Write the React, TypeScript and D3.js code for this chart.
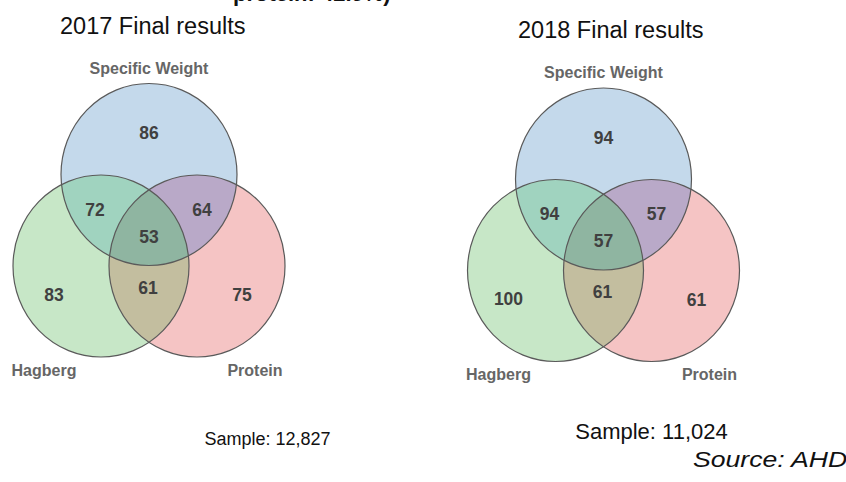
import { useEffect, useRef } from 'react';
import * as d3 from 'd3';

// Set names and region counts (order: SW only, H only, P only, SW∩H, SW∩P, H∩P, all three)
const SETS = ['Specific Weight', 'Hagberg', 'Protein'];
const YEARS = ['2017', '2018'];
const COUNTS_2017 = [86, 83, 75, 72, 64, 61, 53];
const COUNTS_2018 = [94, 100, 61, 94, 57, 61, 57];
const SAMPLES = ['12,827', '11,024'];

const COLORS = {
  sw: '#c4d9eb',
  hag: '#c7e7c7',
  pro: '#f5c4c4',
  swHag: '#a0d3bf',
  swPro: '#b9a9c8',
  hagPro: '#c3be9f',
  all: '#8fb5a1',
  stroke: '#5a5a5a',
  number: '#404040',
  label: '#666666',
  text: '#111111',
};

const W = 846;
const H = 482;

// Geometry of one venn: circle radii and spacing
const RX = 88;
const RY = 91;
const HALF = 48;
const DROP = 91.5;

// label offsets relative to (middle x, top-circle centre y), one per region
const REGION_OFFSETS: [number, number][] = [
  [0, -41.5],
  [-95, 120],
  [93, 120.5],
  [-54, 35],
  [53, 35],
  [-1, 113],
  [0, 62],
];

export default function App() {
  const svgRef = useRef<SVGSVGElement>(null);

  useEffect(() => {
    if (!svgRef.current) return;
    const svg = d3.select(svgRef.current);
    svg.selectAll('*').remove();
    const defs = svg.append('defs');

    // cut-off heading from the slide above
    svg.append('text')
      .attr('x', 233)
      .attr('y', 1)
      .attr('font-size', '22px')
      .attr('font-weight', '700')
      .attr('fill', COLORS.text)
      .text('protein: 42.9%)');

    const panels = [
      { year: YEARS[0], counts: COUNTS_2017, mx: 149, cy: 174.5, tx: 60, ty: 34, sample: SAMPLES[0], sx: 267.5, sy: 445, sf: 18 },
      { year: YEARS[1], counts: COUNTS_2018, mx: 603.5, cy: 179, tx: 518, ty: 38, sample: SAMPLES[1], sx: 651.5, sy: 439, sf: 22 },
    ];

    panels.forEach((p, pi) => {
      const g = svg.append('g');

      g.append('text')
        .attr('x', p.tx)
        .attr('y', p.ty)
        .attr('font-size', '23.5px')
        .attr('fill', COLORS.text)
        .text(`${p.year} Final results`);

      const circles = [
        { key: 'sw', x: p.mx, y: p.cy },
        { key: 'hag', x: p.mx - HALF, y: p.cy + DROP },
        { key: 'pro', x: p.mx + HALF, y: p.cy + DROP },
      ];

      circles.forEach(c => {
        defs.append('clipPath')
          .attr('id', `clip-${pi}-${c.key}`)
          .append('ellipse')
          .attr('cx', c.x).attr('cy', c.y).attr('rx', RX).attr('ry', RY);
      });

      const ellipse = (sel: any, c: any) => sel.append('ellipse')
        .attr('cx', c.x).attr('cy', c.y).attr('rx', RX).attr('ry', RY);

      // single sets
      circles.forEach(c => {
        ellipse(g, c).attr('fill', (COLORS as any)[c.key]);
      });

      // pairs
      const pairs: [number, number, string][] = [
        [0, 1, COLORS.swHag],
        [0, 2, COLORS.swPro],
        [1, 2, COLORS.hagPro],
      ];
      pairs.forEach(([a, b, col]) => {
        ellipse(g, circles[a])
          .attr('clip-path', `url(#clip-${pi}-${circles[b].key})`)
          .attr('fill', col);
      });

      // triple
      const tg = g.append('g').attr('clip-path', `url(#clip-${pi}-${circles[2].key})`);
      ellipse(tg, circles[0])
        .attr('clip-path', `url(#clip-${pi}-${circles[1].key})`)
        .attr('fill', COLORS.all);

      // outlines
      circles.forEach(c => {
        ellipse(g, c)
          .attr('fill', 'none')
          .attr('stroke', COLORS.stroke)
          .attr('stroke-width', 1.2);
      });

      // region counts
      p.counts.forEach((v, i) => {
        g.append('text')
          .attr('x', p.mx + REGION_OFFSETS[i][0])
          .attr('y', p.cy + REGION_OFFSETS[i][1])
          .attr('text-anchor', 'middle')
          .attr('dominant-baseline', 'central')
          .attr('font-size', '17.5px')
          .attr('font-weight', '700')
          .attr('fill', COLORS.number)
          .text(v);
      });

      // set labels
      const labelPos: [number, number][] = [
        [0, -101],
        [-105, 201],
        [106, 201],
      ];
      SETS.forEach((s, i) => {
        g.append('text')
          .attr('x', p.mx + labelPos[i][0])
          .attr('y', p.cy + labelPos[i][1])
          .attr('text-anchor', 'middle')
          .attr('font-size', '16px')
          .attr('font-weight', '700')
          .attr('fill', COLORS.label)
          .text(s);
      });

      g.append('text')
        .attr('x', p.sx)
        .attr('y', p.sy)
        .attr('text-anchor', 'middle')
        .attr('font-size', `${p.sf}px`)
        .attr('fill', COLORS.text)
        .text(`Sample: ${p.sample}`);
    });

    svg.append('text')
      .attr('x', 693)
      .attr('y', 467)
      .attr('font-size', '22px')
      .attr('font-style', 'italic')
      .attr('fill', COLORS.text)
      .attr('textLength', 172)
      .attr('lengthAdjust', 'spacingAndGlyphs')
      .text('Source: AHDB');
  }, []);

  return (
    <svg
      ref={svgRef}
      width={W}
      height={H}
      style={{ position: 'fixed', left: 0, top: 0, background: '#fff', fontFamily: 'Arial, "Liberation Sans", sans-serif' }}
    />
  );
}
